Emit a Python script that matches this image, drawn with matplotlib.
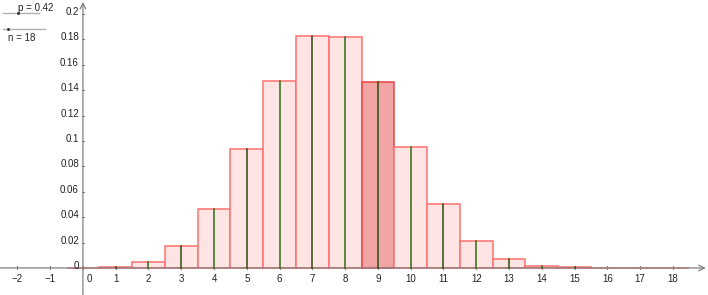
import matplotlib.pyplot as plt

# binomial distribution n = 18, p = 0.42
k_values = list(range(19))
probs = [0.00006, 0.0007, 0.0044, 0.0171, 0.0463, 0.0939, 0.1473, 0.1828, 0.1820,
         0.1465, 0.0955, 0.0503, 0.0212, 0.0071, 0.0018, 0.0004, 0.00005, 0.0, 0.0]
highlight_k = 9
y_ticks = [0, 0.02, 0.04, 0.06, 0.08, 0.1, 0.12, 0.14, 0.16, 0.18, 0.2]
y_tick_labels = ['0', '0.02', '0.04', '0.06', '0.08', '0.1', '0.12', '0.14', '0.16', '0.18', '0.2']
x_ticks = list(range(-2, 19))
p_label = 'p = 0.42'
n_label = 'n = 18'

plt.rcParams['font.family'] = ['Liberation Sans', 'DejaVu Sans']

fig = plt.figure(figsize=(7.08, 2.95), dpi=100)
ax = fig.add_axes([0, 0, 1, 1])
ax.set_xlim(-2.53, 19.07)
ax.set_ylim(-0.0213, 0.2110)
ax.axis('off')

axis_col = '#808080'
# axes with arrows
ax.annotate('', xy=(19.0, 0), xytext=(-2.53, 0),
            arrowprops=dict(arrowstyle='->', color=axis_col, lw=0.9, shrinkA=0, shrinkB=0))
ax.annotate('', xy=(0, 0.2095), xytext=(0, -0.0213),
            arrowprops=dict(arrowstyle='->', color=axis_col, lw=0.9, shrinkA=0, shrinkB=0))

# bars
for k, pr in zip(k_values, probs):
    if k == highlight_k:
        fc, ec = '#f2a5a5', '#e84545'
    else:
        fc, ec = '#ffe4e4', '#ff7070'
    ax.bar(k, pr, width=1, color=fc, edgecolor=ec, linewidth=1.1, zorder=2)
    line_col = '#2f6b12' if k % 2 == 0 else '#2a4d0a'
    ax.plot([k, k], [0, pr], color=line_col, lw=1.1, zorder=3)

# tick marks and labels
for t in x_ticks:
    ax.plot([t, t], [-0.0012, 0.0012], color=axis_col, lw=0.8, zorder=1)
    if t == 0:
        ax.text(0.12, -0.0045, '0', ha='left', va='top', fontsize=7, color='#222222')
    else:
        lab = '\u2212' + str(-t) if t < 0 else str(t)
        ax.text(t, -0.0045, lab, ha='center', va='top', fontsize=7, color='#222222')

for t, lab in zip(y_ticks, y_tick_labels):
    if t != 0:
        ax.plot([-0.04, 0.04], [t, t], color=axis_col, lw=0.8)
    ax.text(-0.12, t + 0.0015, lab, ha='right', va='center', fontsize=7, color='#222222')

# sliders
ax.plot([-2.44, -1.34], [0.2008, 0.2008], color='#b0b0b0', lw=1)
ax.plot([-1.98], [0.2008], 'o', color='#333333', ms=1.1)
ax.text(-1.98, 0.2045, p_label, ha='left', va='center', fontsize=7, color='#222222')
ax.plot([-2.44, -1.15], [0.1882, 0.1882], color='#b0b0b0', lw=1)
ax.plot([-2.28], [0.1882], 'o', color='#333333', ms=1.1)
ax.text(-2.30, 0.1810, n_label, ha='left', va='center', fontsize=7, color='#222222')

fig.savefig('out.png', dpi=100)
